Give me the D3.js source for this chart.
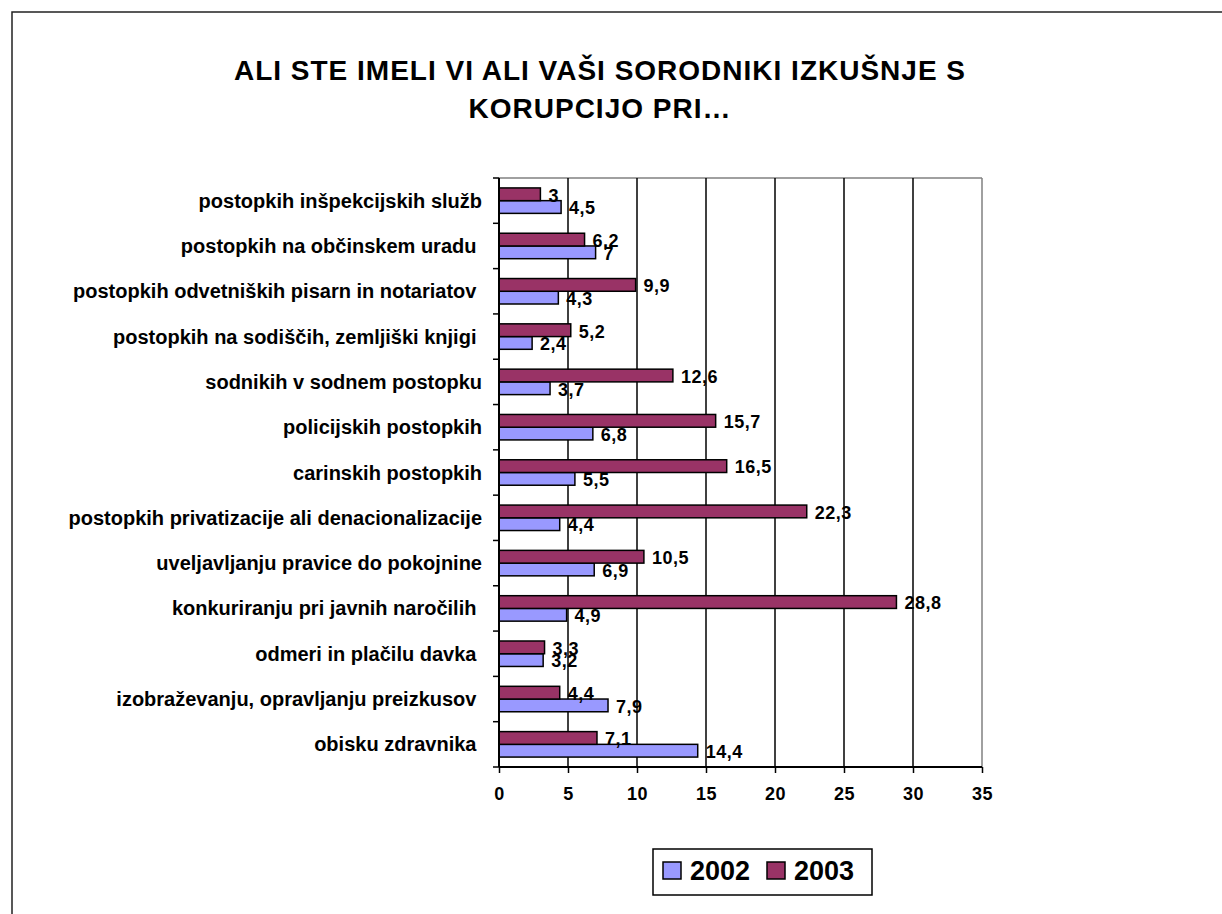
<!DOCTYPE html>
<html>
<head>
<meta charset="utf-8">
<script src="https://cdn.jsdelivr.net/npm/d3@7"></script>
<style>
  body { margin: 0; background: #fff; }
  svg text { font-family: "Liberation Sans", Arial, sans-serif; font-weight: bold; white-space: pre; }
</style>
</head>
<body>
<div id="chart"></div>
<script>
// categories, top to bottom as drawn
let categories = [
    "postopkih inšpekcijskih služb",
    "postopkih na občinskem uradu ",
    "postopkih odvetniških pisarn in notariatov ",
    "postopkih na sodiščih, zemljiški knjigi ",
    "sodnikih v sodnem postopku",
    "policijskih postopkih",
    "carinskih postopkih",
    "postopkih privatizacije ali denacionalizacije",
    "uveljavljanju pravice do pokojnine",
    "konkuriranju pri javnih naročilih ",
    "odmeri in plačilu davka ",
    "izobraževanju, opravljanju preizkusov ",
    "obisku zdravnika "
];
let values2002 = [4.5, 7, 4.3, 2.4, 3.7, 6.8, 5.5, 4.4, 6.9, 4.9, 3.2, 7.9, 14.4];
let values2003 = [3, 6.2, 9.9, 5.2, 12.6, 15.7, 16.5, 22.3, 10.5, 28.8, 3.3, 4.4, 7.1];
let seriesNames = ["2002", "2003"];
let seriesColors = {"2002": "#9999ff", "2003": "#993366"};
let xTicks = [0, 5, 10, 15, 20, 25, 30, 35];
let titleLines = ["ALI STE IMELI VI ALI VAŠI SORODNIKI IZKUŠNJE S", "KORUPCIJO PRI…"];

let width = 1222, height = 914;

let svg = d3.select("#chart").append("svg")
    .attr("width", width)
    .attr("height", height);

// outer frame (runs off the right and bottom of the picture)
svg.append("rect")
    .attr("x", 12).attr("y", 12)
    .attr("width", 1240).attr("height", 940)
    .attr("fill", "none")
    .attr("stroke", "#222")
    .attr("stroke-width", 1.5);

// title
svg.append("g").selectAll("text")
    .data(titleLines)
    .join("text")
    .attr("x", 600)
    .attr("y", (d, i) => 80 + i * 38)
    .attr("text-anchor", "middle")
    .attr("font-size", 28)
    .attr("letter-spacing", 1)
    .text(d => d);

let plot = {left: 499, right: 982, top: 178, bottom: 767};

let x = d3.scaleLinear().domain([0, 35]).range([plot.left, plot.right]);
let y = d3.scaleBand().domain(categories).range([plot.top, plot.bottom]);
let ySub = d3.scaleBand().domain(["2003", "2002"]).range([0, y.bandwidth()]).paddingInner(0).paddingOuter(0.78);

let rows = categories.map((c, i) => ({cat: c, "2002": values2002[i], "2003": values2003[i]}));

// plot area border (gray) and gridlines
svg.append("line")
    .attr("x1", plot.left).attr("x2", plot.right)
    .attr("y1", plot.top).attr("y2", plot.top)
    .attr("stroke", "#808080").attr("stroke-width", 1.5);
svg.append("line")
    .attr("x1", plot.right).attr("x2", plot.right)
    .attr("y1", plot.top).attr("y2", plot.bottom)
    .attr("stroke", "#808080").attr("stroke-width", 1.5);

svg.append("g").selectAll("line")
    .data(xTicks.filter(t => t > 0 && t < 35))
    .join("line")
    .attr("x1", d => x(d)).attr("x2", d => x(d))
    .attr("y1", plot.top).attr("y2", plot.bottom)
    .attr("stroke", "#000").attr("stroke-width", 1.5);

// bars
let groups = svg.append("g").selectAll("g")
    .data(rows)
    .join("g")
    .attr("transform", d => `translate(0,${y(d.cat)})`);

groups.selectAll("rect")
    .data(d => seriesNames.map(s => ({s: s, v: d[s]})))
    .join("rect")
    .attr("x", x(0))
    .attr("y", d => ySub(d.s))
    .attr("width", d => x(d.v) - x(0))
    .attr("height", ySub.bandwidth())
    .attr("fill", d => seriesColors[d.s])
    .attr("stroke", "#000")
    .attr("stroke-width", 1.5);

groups.selectAll("text")
    .data(d => seriesNames.map(s => ({s: s, v: d[s]})))
    .join("text")
    .attr("x", d => x(d.v) + 8)
    .attr("y", d => ySub(d.s) + ySub.bandwidth() / 2 + 1)
    .attr("dy", "0.35em")
    .attr("font-size", 18)
    .attr("letter-spacing", 0.5)
    .text(d => String(d.v).replace(".", ","));

// axes
let yAxis = svg.append("g")
    .attr("transform", `translate(${plot.left},0)`)
    .call(d3.axisLeft(y).tickSize(6).tickPadding(18).tickValues([]));

// category ticks at band boundaries
svg.append("g").selectAll("line")
    .data(categories.map(c => y(c)).concat([plot.bottom]))
    .join("line")
    .attr("x1", plot.left - 6).attr("x2", plot.left)
    .attr("y1", d => d).attr("y2", d => d)
    .attr("stroke", "#000").attr("stroke-width", 1.5);

yAxis.select(".domain").attr("stroke-width", 2).attr("d", `M0,${plot.top}V${plot.bottom}`);

svg.append("g").selectAll("text")
    .data(categories)
    .join("text")
    .attr("x", 482)
    .attr("y", d => y(d) + y.bandwidth() / 2)
    .attr("dy", "0.35em")
    .attr("text-anchor", "end")
    .attr("font-size", 20)
    .text(d => d);

let xAxis = svg.append("g")
    .attr("transform", `translate(0,${plot.bottom})`)
    .call(d3.axisBottom(x).tickValues(xTicks).tickSize(6).tickPadding(14).tickFormat(d3.format("d")));
xAxis.select(".domain").attr("stroke-width", 2).attr("d", `M${plot.left},0H${plot.right}`);
xAxis.selectAll(".tick line").attr("stroke-width", 1.5);
xAxis.selectAll(".tick text")
    .attr("font-size", 18)
    .attr("letter-spacing", 0.5)
    .attr("font-family", "'Liberation Sans', Arial, sans-serif")
    .attr("font-weight", "bold")
    .attr("fill", "#000");

// legend
let legend = svg.append("g");
legend.append("rect")
    .attr("x", 653).attr("y", 849)
    .attr("width", 219).attr("height", 46)
    .attr("fill", "#fff").attr("stroke", "#000").attr("stroke-width", 1.5);

let legendItems = legend.selectAll("g")
    .data(seriesNames)
    .join("g")
    .attr("transform", (d, i) => `translate(${663 + i * 104},862)`);

legendItems.append("rect")
    .attr("width", 18).attr("height", 17)
    .attr("fill", d => seriesColors[d])
    .attr("stroke", "#000").attr("stroke-width", 1.5);

legendItems.append("text")
    .attr("x", 27)
    .attr("y", 9)
    .attr("dy", "0.35em")
    .attr("font-size", 27)
    .text(d => d);
</script>
</body>
</html>
